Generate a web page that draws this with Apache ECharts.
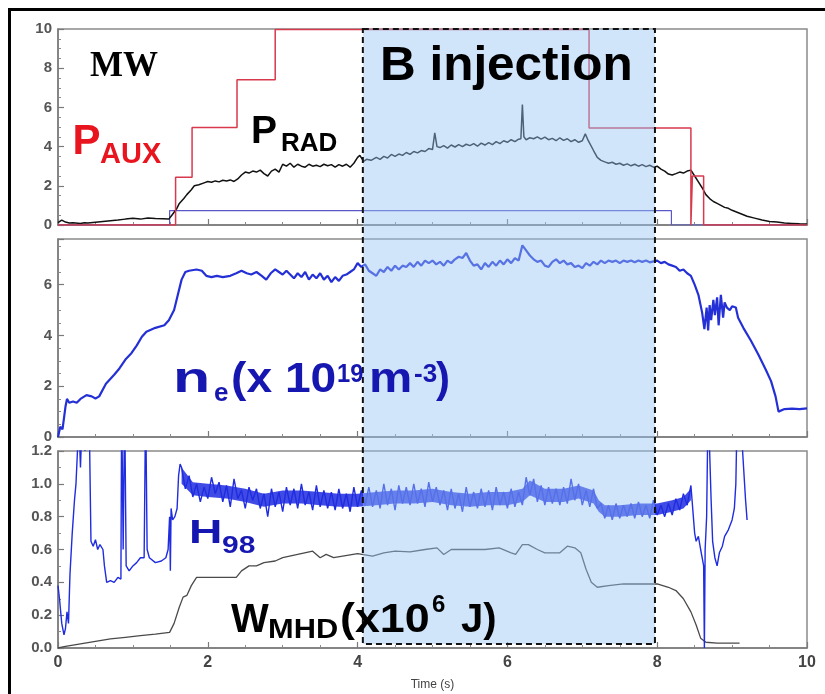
<!DOCTYPE html>
<html><head><meta charset="utf-8">
<script src="https://cdn.jsdelivr.net/npm/echarts@6.0.0/dist/echarts.min.js"></script>
<style>html,body{margin:0;padding:0;background:#fff}#c{width:825px;height:694px}</style>
</head><body><div id="c"></div>
<script>
// ---------- DATA ----------
var injStart = 4.07, injEnd = 7.97, injBottom = 0.025;

var pauxData = [[0,0],[1.57,0],[1.57,2.43],[1.79,2.43],[1.79,4.97],[2.39,4.97],[2.39,7.41],[2.9,7.41],[2.9,9.97],
  [7.09,9.97],[7.09,4.95],[8.45,4.95],[8.45,0],[8.47,0],[8.47,2.5],[8.62,2.5],[8.62,0],[10,0]];

var nbiLevelData = [[0,0],[1.49,0],[1.49,0.73],[8.19,0.73],[8.19,0],[10,0]];

var pradData = [[0,0.12],[0.05,0.25],[0.1,0.15],[0.15,0.1],[0.2,0.12],[0.3,0.08],[0.35,0.12],[0.4,0.1],[0.5,0.14],
  [0.6,0.18],[0.7,0.22],[0.8,0.25],[0.9,0.3],[1.0,0.34],[1.1,0.3],[1.2,0.36],[1.3,0.33],[1.4,0.32],[1.48,0.3],
  [1.52,0.5],[1.58,0.8],[1.62,1.1],[1.68,1.35],[1.72,1.55],[1.78,1.8],[1.82,2.0],[1.88,2.05],[1.95,2.15],[2.0,2.22],
  [2.05,2.18],[2.1,2.25],[2.15,2.2],[2.2,2.28],[2.25,2.25],[2.3,2.3],[2.35,2.22],[2.4,2.35],[2.45,2.55],[2.5,2.7],
  [2.55,2.65],[2.6,2.75],[2.65,2.7],[2.7,2.8],[2.75,2.62],[2.8,2.5],[2.85,2.75],[2.9,2.85],[2.95,2.7],[3.0,3.1],
  [3.05,3.0],[3.1,3.15],[3.15,2.95],[3.2,3.1],[3.25,3.0],[3.3,2.95],[3.35,3.1],[3.4,3.0],[3.45,3.05],[3.5,2.98],
  [3.55,3.1],[3.6,3.02],[3.65,3.08],[3.7,2.95],[3.75,3.08],[3.8,3.0],[3.85,3.1],[3.9,2.95],[3.95,3.15],[4.0,3.45],
  [4.03,3.55],[4.08,3.25],[4.12,3.35],[4.18,3.3],[4.25,3.45],[4.3,3.35],[4.35,3.5],[4.4,3.42],[4.45,3.6],[4.5,3.5],
  [4.55,3.62],[4.6,3.55],[4.65,3.7],[4.7,3.6],[4.75,3.75],[4.8,3.68],[4.85,3.8],[4.9,3.75],[4.95,3.9],[5.0,3.85],
  [5.03,4.7],[5.06,4.0],[5.1,3.95],[5.15,4.05],[5.2,3.92],[5.25,4.08],[5.3,3.98],[5.35,4.1],[5.4,4.0],[5.45,4.12],
  [5.5,4.05],[5.55,4.15],[5.6,4.02],[5.65,4.18],[5.7,4.08],[5.75,4.2],[5.8,4.1],[5.85,4.25],[5.9,4.15],[5.95,4.3],
  [6.0,4.22],[6.05,4.35],[6.1,4.25],[6.15,4.38],[6.18,4.4],[6.2,6.15],[6.22,4.5],[6.25,4.35],[6.3,4.45],[6.35,4.4],
  [6.4,4.5],[6.45,4.38],[6.5,4.48],[6.55,4.35],[6.6,4.42],[6.65,4.3],[6.7,4.45],[6.75,4.32],[6.8,4.4],[6.85,4.25],
  [6.9,4.35],[6.95,4.22],[7.0,4.3],[7.04,4.65],[7.08,4.3],[7.15,3.8],[7.2,3.45],[7.25,3.3],[7.3,3.22],[7.35,3.15],
  [7.4,3.2],[7.45,3.1],[7.5,3.15],[7.55,3.05],[7.6,3.12],[7.65,3.02],[7.7,3.1],[7.75,3.0],[7.8,3.08],[7.85,2.98],
  [7.9,3.05],[7.95,2.95],[8.0,3.0],[8.05,2.85],[8.1,2.75],[8.15,2.6],[8.2,2.55],[8.25,2.62],[8.3,2.7],[8.35,2.65],
  [8.4,2.75],[8.45,2.8],[8.5,2.5],[8.55,2.2],[8.6,1.9],[8.65,1.55],[8.7,1.35],[8.75,1.2],[8.8,1.1],[8.85,1.0],
  [8.9,0.9],[8.95,0.85],[9.0,0.75],[9.1,0.6],[9.2,0.45],[9.3,0.35],[9.4,0.25],[9.5,0.18],[9.6,0.15],[9.7,0.1],
  [9.8,0.08],[9.9,0.06],[10,0.05]];

var neData = [[0,0],[0.03,0.4],[0.06,0.3],[0.1,1.2],[0.12,1.5],[0.15,1.35],[0.2,1.4],[0.25,1.35],[0.3,1.5],[0.38,1.65],
  [0.45,1.6],[0.5,1.52],[0.55,1.6],[0.64,2.1],[0.75,2.45],[0.82,2.7],[0.9,3.05],[0.98,3.3],[1.05,3.6],[1.12,3.95],
  [1.18,4.15],[1.3,4.3],[1.42,4.4],[1.48,4.6],[1.55,5.0],[1.6,5.6],[1.65,6.2],[1.7,6.5],[1.75,6.55],[1.85,6.6],
  [1.92,6.55],[1.98,6.35],[2.05,6.3],[2.12,6.35],[2.2,6.3],[2.3,6.35],[2.38,6.45],[2.45,6.55],[2.52,6.45],[2.58,6.4],
  [2.65,6.5],[2.72,6.35],[2.78,6.2],[2.84,6.45],[2.9,6.6],[2.95,6.5],[3.0,6.4],[3.05,6.55],[3.1,6.4],[3.15,6.25],
  [3.2,6.45],[3.25,6.3],[3.3,6.5],[3.35,6.2],[3.4,6.4],[3.45,6.25],[3.5,6.45],[3.55,6.2],[3.6,6.35],[3.65,6.1],
  [3.7,6.3],[3.75,6.15],[3.8,6.35],[3.85,6.4],[3.9,6.5],[3.95,6.6],[4.0,6.85],[4.05,6.7],[4.1,6.8],[4.15,6.55],
  [4.2,6.45],[4.25,6.35],[4.3,6.6],[4.35,6.5],[4.4,6.7],[4.45,6.55],[4.5,6.75],[4.55,6.6],[4.6,6.75],[4.65,6.7],
  [4.7,6.85],[4.75,6.7],[4.8,6.9],[4.85,6.75],[4.9,6.95],[4.95,6.85],[5.0,6.95],[5.05,6.8],[5.1,6.9],[5.15,6.75],
  [5.2,6.95],[5.25,6.85],[5.3,7.0],[5.35,7.1],[5.4,7.05],[5.45,7.25],[5.5,6.95],[5.55,6.75],[5.6,6.8],[5.65,6.6],
  [5.7,6.85],[5.75,6.7],[5.8,6.9],[5.85,6.75],[5.9,6.95],[5.95,6.8],[6.0,7.0],[6.05,6.85],[6.1,7.05],[6.15,6.95],
  [6.2,7.55],[6.25,7.35],[6.3,7.15],[6.35,7.0],[6.4,6.9],[6.45,6.95],[6.5,6.75],[6.55,6.7],[6.6,6.9],[6.65,7.0],
  [6.7,6.85],[6.75,6.95],[6.8,6.8],[6.85,6.85],[6.9,6.7],[6.95,6.75],[7.0,6.65],[7.05,6.85],[7.1,6.75],[7.15,6.9],
  [7.2,6.8],[7.25,6.95],[7.3,6.85],[7.35,6.95],[7.4,6.9],[7.45,6.95],[7.5,6.85],[7.55,6.95],[7.6,6.9],[7.65,6.95],
  [7.7,6.88],[7.75,6.95],[7.8,6.9],[7.85,6.95],[7.9,6.88],[7.95,6.92],[8.0,6.95],[8.05,6.85],[8.1,6.9],[8.15,6.8],
  [8.2,6.75],[8.25,6.7],[8.3,6.55],[8.35,6.6],[8.4,6.45],[8.45,6.35],[8.5,6.0],[8.55,5.6],[8.6,4.9],[8.63,4.25],
  [8.66,5.1],[8.68,4.2],[8.7,5.2],[8.72,4.6],[8.75,5.4],[8.77,4.8],[8.8,5.5],[8.82,4.4],[8.85,5.6],[8.88,4.7],
  [8.9,5.3],[8.93,5.1],[8.97,5.0],[9.0,5.15],[9.05,5.1],[9.08,4.7],[9.15,4.3],[9.25,3.8],[9.35,3.25],[9.45,2.65],
  [9.52,2.2],[9.58,1.6],[9.62,1.0],[9.7,1.1],[9.8,1.12],[9.9,1.1],[10,1.13]];

var h98Head = [[0,0.38],[0.02,0.3],[0.05,0.15],[0.08,0.08],[0.1,0.12],[0.12,0.22],[0.14,0.15],[0.16,0.45],[0.19,0.7],
  [0.22,0.9],[0.24,1.0],[0.26,1.2],[0.27,1.5],[0.3,1.1],[0.33,1.5],[0.36,1.2],[0.39,1.5],[0.42,1.3],[0.44,0.65],
  [0.47,0.62],[0.5,0.66],[0.53,0.6],[0.56,0.63],[0.6,0.6],[0.62,0.5],[0.65,0.4],[0.7,0.41],[0.75,0.4],[0.8,0.43],
  [0.84,0.42],[0.85,1.5],[0.87,0.6],[0.89,1.5],[0.91,0.5],[0.95,0.47],[1.0,0.5],[1.05,0.52],[1.1,0.55],[1.15,0.55],
  [1.17,1.5],[1.19,0.6],[1.22,0.55],[1.3,0.52],[1.38,0.53],[1.44,0.55],[1.47,0.6],[1.49,0.8],[1.5,0.47],[1.51,0.85],
  [1.53,0.78],[1.56,0.8],[1.59,0.85],[1.61,1.05],[1.63,1.12]];
// noisy band, sampled every 0.05 s from 1.65 s to 8.45 s
var h98BandStart = 1.65, h98BandStep = 0.05;
var h98Band = [1.1,0.97,1.05,0.92,1.0,0.89,0.98,0.91,1.04,0.94,
  1.01,0.89,0.99,0.86,1.03,0.91,0.96,0.85,0.98,0.9,
  0.97,0.85,0.94,0.8,0.97,0.86,0.95,0.83,0.98,0.87,
  0.97,0.85,1.0,0.87,0.95,0.84,0.99,0.86,0.96,0.85,
  0.95,0.84,0.97,0.85,0.94,0.83,0.98,0.86,0.96,0.87,
  0.98,0.86,0.96,0.85,1.0,0.87,0.97,0.84,0.99,0.88,
  0.98,0.87,1.0,0.88,0.97,0.86,1.01,0.89,0.98,0.87,
  0.96,0.84,0.97,0.85,0.94,0.83,0.98,0.86,0.95,0.85,
  0.97,0.86,0.96,0.84,0.98,0.87,0.95,0.85,0.97,0.86,
  0.95,0.87,1.04,0.93,1.03,0.89,0.99,0.87,0.98,0.88,
  0.97,0.87,0.98,0.88,1.03,0.9,1.0,0.87,0.96,0.86,
  0.97,0.85,0.88,0.79,0.87,0.78,0.88,0.79,0.87,0.8,
  0.88,0.79,0.89,0.8,0.87,0.79,0.9,0.81,0.87,0.8,
  0.88,0.81,0.91,0.84,0.94,0.87,0.99];
// dense core of the noisy H98 trace (lower / upper edge)
var h98CoreTimes = [1.65,1.8,2.0,2.25,2.5,2.75,3.0,3.25,3.5,3.75,4.0,4.25,4.5,4.75,5.0,5.25,5.5,5.75,6.0,6.2,
  6.3,6.5,6.75,6.95,7.15,7.22,7.3,7.5,7.75,8.0,8.2,8.35,8.45];
var h98CoreLow = [1.0,0.93,0.92,0.91,0.89,0.86,0.88,0.88,0.87,0.86,0.86,0.87,0.88,0.88,0.89,0.87,0.86,0.87,0.87,0.89,
  0.93,0.89,0.89,0.91,0.88,0.83,0.8,0.8,0.81,0.81,0.83,0.85,0.9];
var h98CoreHigh = [1.1,1.01,1.0,0.99,0.97,0.94,0.96,0.96,0.95,0.94,0.94,0.95,0.96,0.96,0.97,0.95,0.94,0.95,0.95,0.97,
  1.02,0.97,0.97,0.99,0.96,0.9,0.87,0.87,0.88,0.88,0.9,0.92,0.97];
var h98Tail = [[8.5,0.7],[8.52,0.65],[8.55,0.68],[8.58,0.6],[8.6,0.55],[8.62,0.5],[8.63,0.0],[8.64,0.6],[8.66,0.8],
  [8.68,1.5],[8.7,1.2],[8.72,0.9],[8.74,0.65],[8.77,0.55],[8.8,0.5],[8.83,0.58],[8.87,0.62],[8.9,0.68],[8.95,0.72],
  [9.0,0.78],[9.03,0.85],[9.05,1.0],[9.07,1.5],[9.12,1.5],[9.14,1.2],[9.18,0.9],[9.2,0.78]];

var wmhdData = [[0,0],[0.1,0.01],[0.3,0.025],[0.5,0.04],[0.7,0.055],[0.9,0.065],[1.1,0.075],[1.3,0.085],[1.49,0.095],
  [1.55,0.15],[1.62,0.25],[1.67,0.31],[1.72,0.32],[1.78,0.38],[1.85,0.43],[2.0,0.43],[2.2,0.43],[2.38,0.43],
  [2.45,0.47],[2.55,0.5],[2.65,0.5],[2.75,0.52],[2.9,0.53],[3.0,0.55],[3.2,0.57],[3.4,0.59],[3.5,0.55],[3.58,0.57],
  [3.68,0.55],[3.8,0.56],[4.0,0.575],[4.2,0.56],[4.35,0.58],[4.5,0.59],[4.7,0.585],[4.9,0.6],[5.06,0.61],[5.15,0.57],
  [5.25,0.6],[5.5,0.6],[5.7,0.6],[5.89,0.61],[6.05,0.58],[6.11,0.57],[6.2,0.63],[6.28,0.63],[6.4,0.6],[6.5,0.58],
  [6.7,0.58],[6.8,0.62],[6.9,0.61],[6.98,0.58],[7.05,0.48],[7.12,0.4],[7.2,0.37],[7.35,0.38],[7.55,0.39],[7.75,0.39],
  [8.0,0.39],[8.15,0.37],[8.25,0.35],[8.35,0.3],[8.45,0.22],[8.52,0.14],[8.58,0.06],[8.65,0.035],[8.8,0.03],
  [9.0,0.03],[9.1,0.03]];

var topTicks = [0, 10, 2], midTicks = [0, 7.8, 2], botTicks = [0, 1.2, 0.2];
var timeTicks = [0, 10, 2];

// ---------- BUILD ----------
var h98Data = h98Head.slice();
for (var i = 0; i < h98Band.length; i++) {
  h98Data.push([+(h98BandStart + i * h98BandStep).toFixed(2), h98Band[i]]);
}
h98Data = h98Data.concat(h98Tail);
var coreData = [];
for (var k = 0; k < h98CoreTimes.length; k++) coreData.push([h98CoreTimes[k], h98CoreLow[k], h98CoreHigh[k]]);

var FONT = '"Liberation Sans", Arial, sans-serif';
var chart = echarts.init(document.getElementById('c'), null, {renderer: 'canvas'});

function xAx(gi, labels) {
  return {
    type: 'value', gridIndex: gi, min: timeTicks[0], max: timeTicks[1], interval: timeTicks[2],
    axisLine: {show: true, onZero: false, lineStyle: {color: '#7a7a7a', width: 1.5}},
    axisTick: {show: true, inside: true, length: 6, lineStyle: {color: '#7a7a7a', width: 1.2}},
    minorTick: {show: true, splitNumber: 4, length: 3, lineStyle: {color: '#8a8a8a'}},
    splitLine: {show: false},
    axisLabel: {show: labels, color: '#444', fontSize: 16, fontWeight: 'bold', fontFamily: FONT, margin: 7},
    name: labels ? 'Time (s)' : '', nameLocation: 'middle', nameGap: 31,
    nameTextStyle: {color: '#444', fontSize: 12, fontFamily: FONT}
  };
}
function yAx(gi, t, minorSplit, fmt) {
  return {
    type: 'value', gridIndex: gi, min: t[0], max: t[1], interval: t[2],
    axisLine: {show: true, lineStyle: {color: '#7a7a7a', width: 1.5}},
    axisTick: {show: true, inside: true, length: 6, lineStyle: {color: '#7a7a7a', width: 1.2}},
    minorTick: {show: true, splitNumber: minorSplit, length: 3, lineStyle: {color: '#8a8a8a'}},
    splitLine: {show: false},
    axisLabel: {color: '#555', fontSize: 15, fontWeight: 'bold', fontFamily: FONT, margin: 6,
      showMaxLabel: gi !== 1, formatter: fmt}
  };
}
function grid(top, height) {
  return {left: 58, right: 18, top: top, height: height, show: true, borderColor: '#8a8a8a', borderWidth: 1.5,
    backgroundColor: 'transparent', containLabel: false, outerBoundsMode: 'none'};
}
function line(xi, data, color, width, z) {
  return {type: 'line', xAxisIndex: xi, yAxisIndex: xi, data: data, showSymbol: false, symbol: 'none',
    sampling: null, clip: true, lineStyle: {color: color, width: width}, z: z || 3, silent: true};
}
var H98_BLUE = '#1f2ce0';

// dense core band: polygon through the upper edge and back along the lower edge
var coreSeries = {
  type: 'custom', xAxisIndex: 2, yAxisIndex: 2, data: [coreData[0]], silent: true, z: 4,
  encode: {x: 0, y: 1},
  renderItem: function (params, api) {
    var pts = [];
    for (var a = 0; a < coreData.length; a++) pts.push(api.coord([coreData[a][0], coreData[a][2]]));
    for (var b = coreData.length - 1; b >= 0; b--) pts.push(api.coord([coreData[b][0], coreData[b][1]]));
    return {type: 'polygon', shape: {points: pts}, style: {fill: H98_BLUE, opacity: 0.85}};
  }
};

chart.setOption({
  animation: false,
  backgroundColor: '#fff',
  grid: [grid(29, 196), grid(239, 198), grid(451, 197)],
  xAxis: [xAx(0, false), xAx(1, false), xAx(2, true)],
  yAxis: [yAx(0, topTicks, 4), yAx(1, midTicks, 4), yAx(2, botTicks, 2, function (v) { return v.toFixed(1); })],
  series: [
    line(0, nbiLevelData, '#5a58c8', 1.2, 3),
    line(0, pradData, '#111', 1.5, 4),
    line(0, pauxData, '#d8394c', 1.5, 5),
    line(1, neData, '#2430d6', 2.2, 4),
    line(2, wmhdData, '#4a4a4a', 1.3, 4),
    coreSeries,
    line(2, h98Data, H98_BLUE, 1.4, 5)
  ]
});

// shaded "B injection" window, positioned through the axes
var pTop = chart.convertToPixel({gridIndex: 0}, [injStart, topTicks[1]]);
var pBot = chart.convertToPixel({gridIndex: 2}, [injEnd, injBottom]);
var rx = pTop[0], ry = pTop[1], rw = pBot[0] - pTop[0], rh = pBot[1] - pTop[1];

function txt(x, y, s, size, color, opts) {
  opts = opts || {};
  return {type: 'text', x: x, y: y, z: 100, scaleX: opts.sx || 1,
    style: {text: s, fill: color, align: 'left', verticalAlign: 'middle',
      font: 'bold ' + size + 'px ' + (opts.family || FONT)}};
}
var BLUE = '#1616b0', RED = '#e8141e';

chart.setOption({
  graphic: [
    {type: 'rect', z: 50, silent: true, shape: {x: rx, y: ry, width: rw, height: rh},
      style: {fill: 'rgba(150,195,245,0.45)', stroke: null}},
    {type: 'rect', z: 60, silent: true, shape: {x: rx, y: ry, width: rw, height: rh},
      style: {fill: null, stroke: '#111', lineWidth: 2, lineDash: [6, 4]}},
    // outer frame
    {type: 'line', z: 90, shape: {x1: 8, y1: 9.5, x2: 825, y2: 9.5}, style: {stroke: '#000', lineWidth: 3}},
    {type: 'line', z: 90, shape: {x1: 9.5, y1: 8, x2: 9.5, y2: 694}, style: {stroke: '#000', lineWidth: 3}},
    // annotations
    txt(90, 66.5, 'MW', 35, '#000', {family: '"Liberation Serif", "Times New Roman", serif'}),
    txt(72.5, 142, 'P', 42, RED),
    txt(100, 154.8, 'AUX', 29, RED),
    txt(251, 132.4, 'P', 39, '#000'),
    txt(281, 144.2, 'RAD', 26, '#000'),
    txt(380, 66.8, 'B injection', 48, '#000', {sx: 1.03}),
    txt(173, 380.4, 'n', 42, BLUE, {sx: 1.45}),
    txt(214, 394, 'e', 26, BLUE),
    txt(231, 380.4, '(x 10', 42, BLUE, {sx: 1.1}),
    txt(337, 375, '19', 25, BLUE, {sx: 0.95}),
    txt(369, 380.4, 'm', 42, BLUE, {sx: 1.16}),
    txt(414, 375, '-3', 26, BLUE),
    txt(436, 380.4, ')', 42, BLUE),
    txt(189, 533.6, 'H', 33, BLUE, {sx: 1.4}),
    txt(222, 546.7, '98', 24, BLUE, {sx: 1.25}),
    txt(231, 621, 'W', 40, '#000'),
    txt(268, 630.3, 'MHD', 28, '#000', {sx: 1.1}),
    txt(340, 621, '(x10', 40, '#000', {sx: 1.12}),
    txt(432, 605.4, '6', 24, '#000'),
    txt(461, 621, 'J)', 40, '#000')
  ]
});
</script></body></html>
